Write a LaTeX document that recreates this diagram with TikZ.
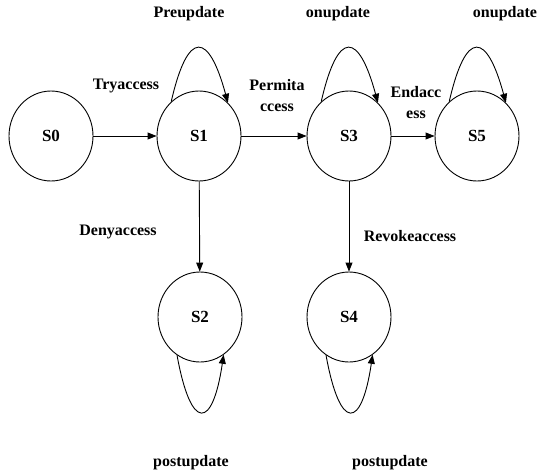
\documentclass[tikz,border=0pt]{standalone}
\usepackage{fontspec}
\setmainfont{Liberation Serif}
\usetikzlibrary{arrows.meta,shapes.geometric}
\tikzset{
    state/.style={draw, ellipse, minimum width=84pt, minimum height=90pt, inner sep=0pt, font=\bfseries\fontsize{17}{20}\selectfont}, % states
    lbl/.style={font=\bfseries\fontsize{16}{21}\selectfont, align=center}, % transition labels
    arr/.style={-{Triangle[length=9pt, width=7pt]}} % connectors
}

\begin{document}
\begin{tikzpicture}[x=1pt, y=1pt, line width=0.9pt]
            \useasboundingbox (0,0) rectangle (538,-474);

            \node[state] (S0) at (51,-136) {S0};
            \node[state] (S1) at (199,-136) {S1};
            \node[state] (S3) at (349,-136) {S3};
            \node[state] (S5) at (477,-136) {S5};
            \node[state] (S2) at (200,-317) {S2};
            \node[state] (S4) at (349,-317) {S4};

            \draw[arr] (S0) -- (S1);
            \draw[arr] (S1) -- (S3);
            \draw[arr] (S3) -- (S5);
            \draw[arr] (S1) -- (S2);
            \draw[arr] (S3) -- (S4);
            \foreach \s in {S1,S3,S5} {\draw[arr] (\s.129) .. controls +(17,74) and +(-19,70) .. (\s.49);}
            \foreach \s in {S2,S4} {\draw[arr] (\s.239) .. controls +(14,-77) and +(-11,-75) .. (\s.302);}

            \node[lbl] (tryaccess) at (126,-86) {Tryaccess};
            \node[lbl] (permitaccess) at (277,-96) {Permita\\ccess};
            \node[lbl] (endaccess) at (416,-103) {Endacc\\ess};
            \node[lbl] (denyaccess) at (118,-232) {Denyaccess};
            \node[lbl] (revokeaccess) at (410,-236) {Revokeaccess};
            \node[lbl] (preupdate) at (189,-14) {Preupdate};
            \node[lbl] (onupdateA) at (338,-14) {onupdate};
            \node[lbl] (onupdateB) at (505,-14) {onupdate};
            \node[lbl] (postupdateA) at (191,-463) {postupdate};
            \node[lbl] (postupdateB) at (390,-463) {postupdate};
        \end{tikzpicture}
\end{document}
